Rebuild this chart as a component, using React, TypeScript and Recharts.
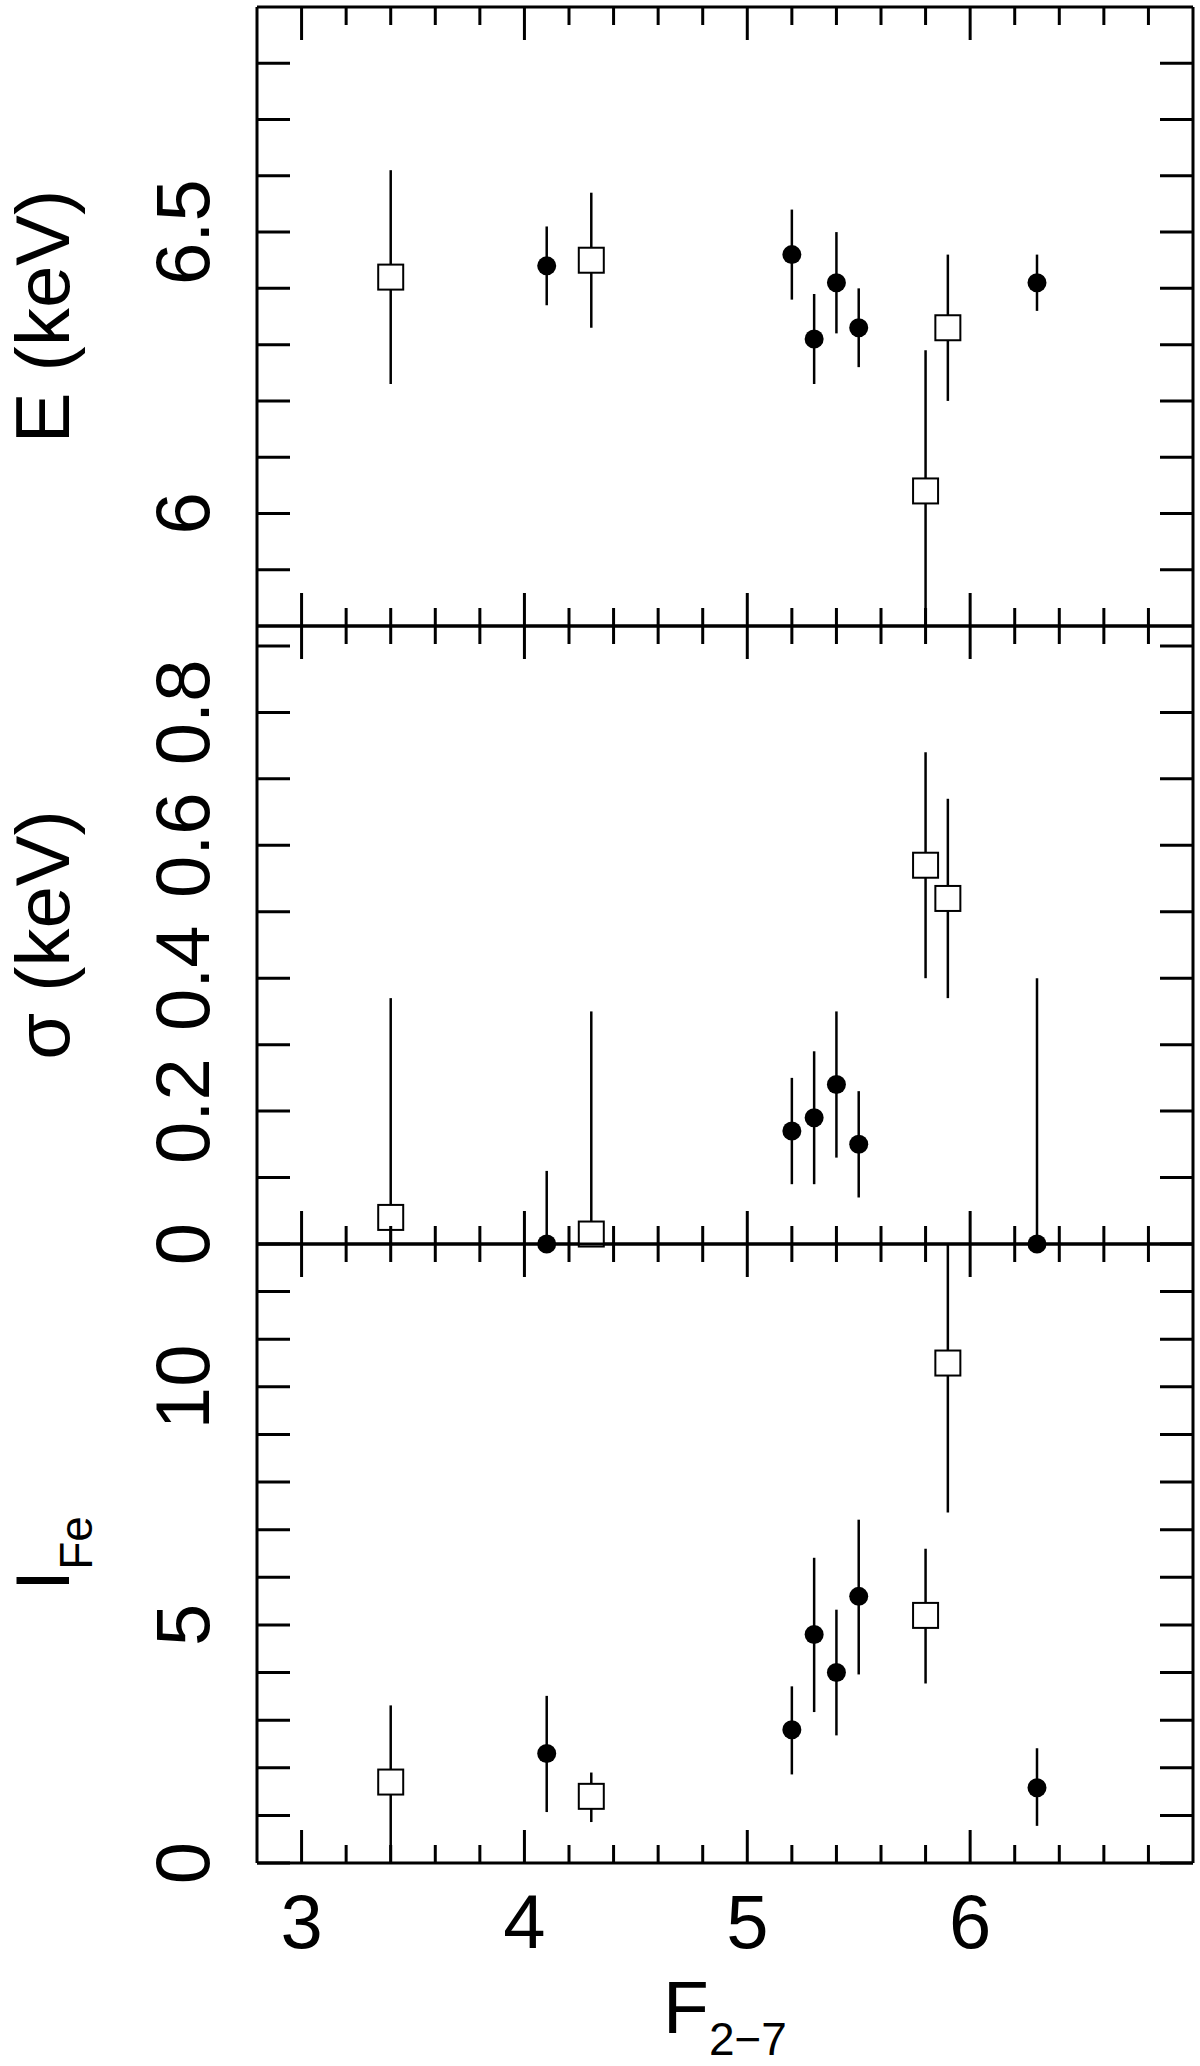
import React from 'react';
import { ScatterChart, Scatter, XAxis, YAxis, ErrorBar } from 'recharts';

// three stacked panels sharing the F(2-7) axis: line energy, width, intensity
const FONT = '"Liberation Sans", Arial, Helvetica, sans-serif';

const xSquares = [3.4, 4.3, 5.8, 5.9];
const xCircles = [4.1, 5.2, 5.3, 5.4, 5.5, 6.3];

// E (keV)
const eSq = [6.42, 6.45, 6.04, 6.33];
const eSqLo = [6.23, 6.33, 5.8, 6.2];
const eSqHi = [6.61, 6.57, 6.29, 6.46];
const eCi = [6.44, 6.46, 6.31, 6.41, 6.33, 6.41];
const eCiLo = [6.37, 6.38, 6.23, 6.32, 6.26, 6.36];
const eCiHi = [6.51, 6.54, 6.39, 6.5, 6.4, 6.46];

// sigma (keV)
const sSq = [0.04, 0.015, 0.57, 0.52];
const sSqLo = [0, 0, 0.4, 0.37];
const sSqHi = [0.37, 0.35, 0.74, 0.67];
const sCi = [0, 0.17, 0.19, 0.24, 0.15, 0];
const sCiLo = [0, 0.09, 0.09, 0.13, 0.07, 0];
const sCiHi = [0.11, 0.25, 0.29, 0.35, 0.23, 0.4];

// I_Fe
const iSq = [1.7, 1.4, 5.2, 10.5];
const iSqLo = [0, 0.86, 3.77, 7.36];
const iSqHi = [3.31, 1.9, 6.6, 13];
const iCi = [2.3, 2.8, 4.8, 4.0, 5.6, 1.58];
const iCiLo = [1.07, 1.86, 3.17, 2.68, 3.96, 0.78];
const iCiHi = [3.51, 3.71, 6.41, 5.32, 7.21, 2.41];

const xDomain = [2.8, 7];
const xTicks = [3, 3.2, 3.4, 3.6, 3.8, 4, 4.2, 4.4, 4.6, 4.8, 5, 5.2, 5.4, 5.6, 5.8, 6, 6.2, 6.4, 6.6, 6.8];
const xLabels = [3, 4, 5, 6];

const eDomain = [5.8, 6.9];
const eTicks = [5.9, 6, 6.1, 6.2, 6.3, 6.4, 6.5, 6.6, 6.7, 6.8];
const eLabels = [6, 6.5];

const sDomain = [0, 0.93];
const sTicks = [0, 0.1, 0.2, 0.3, 0.4, 0.5, 0.6, 0.7, 0.8, 0.9];
const sLabels = [0, 0.2, 0.4, 0.6, 0.8];

const iDomain = [0, 13];
const iTicks = [0, 1, 2, 3, 4, 5, 6, 7, 8, 9, 10, 11, 12];
const iLabels = [0, 5, 10];

const rows = (xs: number[], vs: number[], lo: number[], hi: number[]) =>
  xs.map((x, i) => ({ x, y: vs[i], err: [vs[i] - lo[i], hi[i] - vs[i]] }));

const axisLine = { stroke: '#000', strokeWidth: 3 };

const xTick = (side: 'top' | 'bottom', withLabels: boolean) => (props: any) => {
  const { x, y, payload } = props;
  const v = payload.value;
  const len = Number.isInteger(v) ? 33 : 18;
  const dir = side === 'bottom' ? -1 : 1;
  return (
    <g>
      <line x1={x} y1={y} x2={x} y2={y + dir * len} stroke="#000" strokeWidth={3} />
      {withLabels && xLabels.includes(v) && (
        <text x={x} y={y + 85} textAnchor="middle" fontSize={76} fontFamily={FONT} fill="#000">
          {v}
        </text>
      )}
    </g>
  );
};

const yTick = (side: 'left' | 'right', labels: number[]) => (props: any) => {
  const { x, y, payload } = props;
  const v = payload.value;
  const dir = side === 'left' ? 1 : -1;
  const lx = x - 48;
  return (
    <g>
      <line x1={x} y1={y} x2={x + dir * 33} y2={y} stroke="#000" strokeWidth={3} />
      {side === 'left' && labels.includes(v) && (
        <text
          x={lx}
          y={y}
          transform={`rotate(-90 ${lx} ${y})`}
          textAnchor="middle"
          fontSize={76}
          fontFamily={FONT}
          fill="#000"
        >
          {String(v)}
        </text>
      )}
    </g>
  );
};

const Circle = (p: any) => <circle cx={p.cx} cy={p.cy} r={9.5} fill="#000" />;
const Square = (p: any) => (
  <rect x={p.cx - 12.5} y={p.cy - 12.5} width={25} height={25} fill="#fff" stroke="#000" strokeWidth={2} />
);

const yTitle = (main: string, sub?: string) => (props: any) => {
  const vb = props.viewBox;
  const cy = vb.y + vb.height / 2;
  const bx = 69;
  return (
    <text
      x={bx}
      y={cy}
      transform={`rotate(-90 ${bx} ${cy})`}
      textAnchor="middle"
      fontSize={76}
      fontFamily={FONT}
      fill="#000"
    >
      <tspan>{main}</tspan>
      {sub && (
        <tspan fontSize={46} dy={23}>
          {sub}
        </tspan>
      )}
    </text>
  );
};

const xTitle = (props: any) => {
  const vb = props.viewBox;
  const cx = vb.x + vb.width / 2;
  return (
    <text x={cx} y={vb.y + 170} textAnchor="middle" fontSize={75} fontFamily={FONT} fill="#000">
      <tspan>F</tspan>
      <tspan fontSize={46} dy={22}>
        2−7
      </tspan>
    </text>
  );
};

interface PanelProps {
  top: number;
  height: number;
  margin: { top: number; bottom: number };
  domain: number[];
  ticks: number[];
  labels: number[];
  squares: any[];
  circles: any[];
  title: any;
  bottomLabels?: boolean;
}

// axes are 1px thick boxes; margins are set so the frame lands on the reference pixels
const Panel: React.FC<PanelProps> = ({ top, height, margin, domain, ticks, labels, squares, circles, title, bottomLabels }) => (
  <div style={{ position: 'absolute', left: 0, top }}>
    <ScatterChart
      width={1200}
      height={height}
      margin={{ top: margin.top - 1, bottom: margin.bottom - 1, left: 256, right: 6 }}
    >
      <XAxis
        xAxisId="b"
        type="number"
        dataKey="x"
        domain={xDomain}
        ticks={xTicks}
        interval={0}
        height={1}
        tickLine={false}
        tickSize={0}
        tickMargin={0}
        axisLine={axisLine}
        tick={xTick('bottom', !!bottomLabels)}
        label={bottomLabels ? { content: xTitle } : undefined}
      />
      <XAxis
        xAxisId="t"
        orientation="top"
        type="number"
        dataKey="x"
        domain={xDomain}
        ticks={xTicks}
        interval={0}
        height={1}
        tickLine={false}
        tickSize={0}
        tickMargin={0}
        axisLine={axisLine}
        tick={xTick('top', false)}
      />
      <YAxis
        yAxisId="l"
        type="number"
        dataKey="y"
        domain={domain}
        ticks={ticks}
        interval={0}
        width={1}
        tickLine={false}
        tickSize={0}
        tickMargin={0}
        axisLine={axisLine}
        tick={yTick('left', labels)}
        label={{ content: title }}
      />
      <YAxis
        yAxisId="r"
        orientation="right"
        type="number"
        dataKey="y"
        domain={domain}
        ticks={ticks}
        interval={0}
        width={1}
        tickLine={false}
        tickSize={0}
        tickMargin={0}
        axisLine={axisLine}
        tick={yTick('right', labels)}
      />
      <Scatter xAxisId="b" yAxisId="l" data={circles} shape={Circle} isAnimationActive={false}>
        <ErrorBar dataKey="err" direction="y" width={0} stroke="#000" strokeWidth={2.5} isAnimationActive={false} />
      </Scatter>
      <Scatter xAxisId="b" yAxisId="l" data={squares} shape={Square} isAnimationActive={false}>
        <ErrorBar dataKey="err" direction="y" width={0} stroke="#000" strokeWidth={2.5} isAnimationActive={false} />
      </Scatter>
      <Scatter xAxisId="t" yAxisId="r" data={squares} shape={() => <g />} isAnimationActive={false} />
    </ScatterChart>
  </div>
);

export default function App() {
  return (
    <div style={{ position: 'absolute', left: 0, top: 0, width: 1200, height: 2066, background: '#fff' }}>
      <Panel
        top={0}
        height={646}
        margin={{ top: 7, bottom: 20 }}
        domain={eDomain}
        ticks={eTicks}
        labels={eLabels}
        squares={rows(xSquares, eSq, eSqLo, eSqHi)}
        circles={rows(xCircles, eCi, eCiLo, eCiHi)}
        title={yTitle('E (keV)')}
      />
      <Panel
        top={606}
        height={658}
        margin={{ top: 20, bottom: 20 }}
        domain={sDomain}
        ticks={sTicks}
        labels={sLabels}
        squares={rows(xSquares, sSq, sSqLo, sSqHi)}
        circles={rows(xCircles, sCi, sCiLo, sCiHi)}
        title={yTitle('σ (keV)')}
      />
      <Panel
        top={1224}
        height={842}
        margin={{ top: 20, bottom: 203 }}
        domain={iDomain}
        ticks={iTicks}
        labels={iLabels}
        squares={rows(xSquares, iSq, iSqLo, iSqHi)}
        circles={rows(xCircles, iCi, iCiLo, iCiHi)}
        title={yTitle('I', 'Fe')}
        bottomLabels
      />
    </div>
  );
}
